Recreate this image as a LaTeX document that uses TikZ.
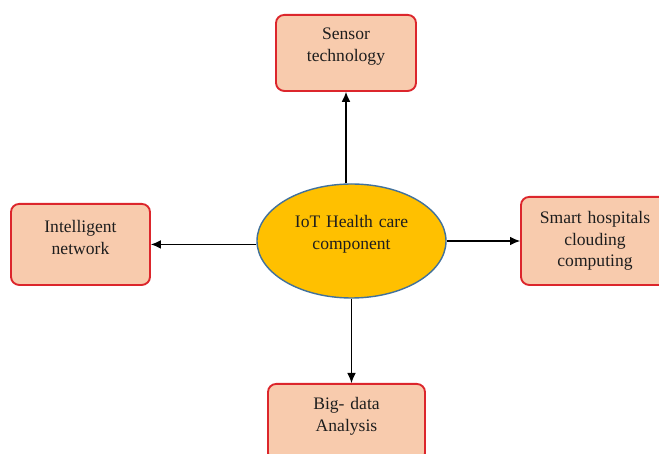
\documentclass[tikz,border=0pt]{standalone}
\usepackage{fontspec}
\setmainfont{Liberation Serif}
\usetikzlibrary{shapes.geometric, arrows.meta}
\definecolor{boxfill}{RGB}{248,203,173}
\definecolor{boxline}{RGB}{220,38,44}
\definecolor{ovalfill}{RGB}{255,192,0}
\definecolor{ovalline}{RGB}{65,113,156}
\definecolor{txt}{RGB}{30,30,30}
\begin{document}
\begin{tikzpicture}[x = 0.03cm, y = -0.03cm,
	box/.style = {draw = boxline, fill = boxfill, line width = 1.6pt, rounded corners = 7pt, align = center, anchor = north, inner sep = 0pt, text = txt, font = \fontsize{15}{18}\selectfont},
	oval/.style = {ellipse, draw = ovalline, fill = ovalfill, line width = 1.2pt, align = center, inner sep = 0pt, minimum width = 5.67cm, minimum height = 3.42cm, text = txt, font = \fontsize{15}{18}\selectfont},
	link/.style = {line width = 0.9pt, -{Latex[length = 3mm, width = 2.6mm]}}]
	\useasboundingbox (0,0) rectangle (659,454);
	\node[oval, text width = 4cm, text height = 0.36cm, text depth = 1.14cm] (ctr) at (351.5,241) {IoT Health care\\component};
	\node[box, text width = 4.2cm, text height = 0.75cm, text depth = 1.53cm] (sensor) at (346,14) {Sensor\\technology};
	\node[box, text width = 4.17cm, text height = 0.87cm, text depth = 1.56cm] (intel) at (80.5,203) {Intelligent\\network};
	\node[box, text width = 4.44cm, text height = 0.81cm, text depth = 1.83cm] (smart) at (595,196) {Smart hospitals\\clouding\\computing};
	\node[box, text width = 4.71cm, text height = 0.78cm, text depth = 1.53cm] (big) at (346.5,383) {Big- data\\Analysis};
	\draw[link] (sensor.south |- ctr.north) -- (sensor.south);
	\draw[link] (ctr.south) -- (ctr.south |- big.north);
	\draw[link] (ctr.west |- intel.east) -- (intel.east);
	\draw[link] (ctr.east) -- (ctr.east -| smart.west);
\end{tikzpicture}
\end{document}
